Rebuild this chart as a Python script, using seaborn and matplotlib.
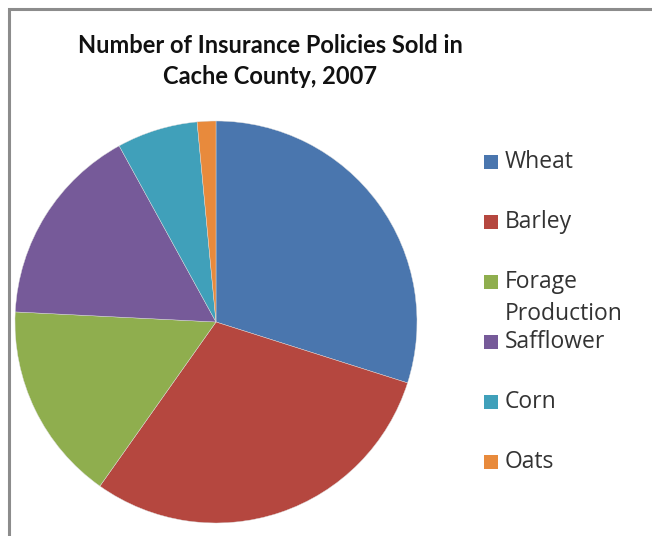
import matplotlib
matplotlib.use("Agg")
import matplotlib.pyplot as plt
import seaborn as sns
from matplotlib.patches import Rectangle

sns.set_theme(style="white")
plt.rcParams['font.family'] = ['Open Sans', 'DejaVu Sans']

categories = ["Wheat", "Barley", "Forage\nProduction", "Safflower", "Corn", "Oats"]
values = [29.9, 29.9, 16.0, 16.2, 6.5, 1.5]
colors = ["#4A76AE", "#B5473F", "#8FAE4E", "#765A99", "#40A0BA", "#E88A3C"]
title = "Number of Insurance Policies Sold in\nCache County, 2007"

W, H = 652, 536
fig = plt.figure(figsize=(W / 100, H / 100), dpi=100)
fig.patch.set_facecolor("white")

# chart frame
fig.patches.append(Rectangle((9 / W, -0.1), 1.2, 1 - 9 / H + 0.1, transform=fig.transFigure,
                             fill=False, edgecolor="#8C8C8C", linewidth=2.2))

cx, cy, r = 216, 322, 201
ax = fig.add_axes([(cx - r) / W, 1 - (cy + r) / H, 2 * r / W, 2 * r / H])
wedges, _ = ax.pie(values, colors=colors, startangle=90, counterclock=False,
                   wedgeprops=dict(linewidth=0.3, edgecolor="#dddddd"))
ax.set_aspect("equal")
ax.set_xlim(-1, 1)
ax.set_ylim(-1, 1)
ax.axis("off")

fig.text(270 / W, 1 - 61 / H, title, ha="center", va="center", fontsize=17,
         fontweight="bold", color="#111111", linespacing=1.38, family=["Lato", "DejaVu Sans"])

# legend
y0, dy = 162, 60
for i, (lab, col) in enumerate(zip(categories, colors)):
    y = y0 + dy * i
    fig.patches.append(Rectangle((484 / W, 1 - (y + 7) / H), 14 / W, 14 / H,
                                 transform=fig.transFigure, facecolor=col, edgecolor="none"))
    fig.text(505 / W, 1 - (y - 12) / H, lab, ha="left", va="top", fontsize=16.5,
             color="#333333", linespacing=1.45)

fig.savefig("out.png", dpi=100, facecolor="white")
